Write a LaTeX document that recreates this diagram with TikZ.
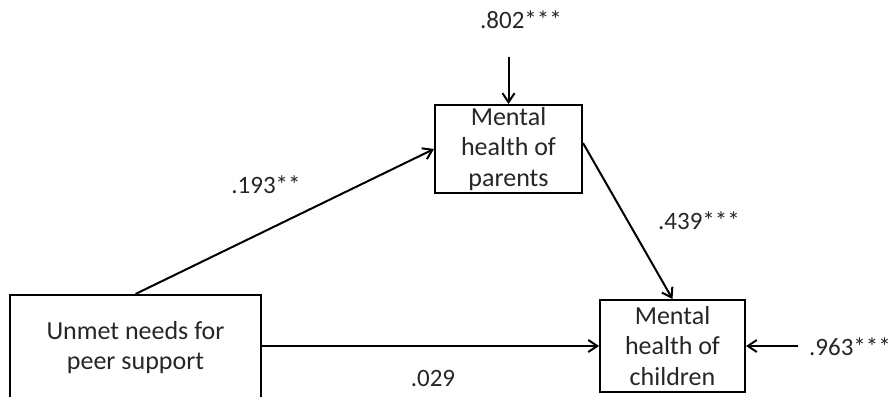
\documentclass[tikz,border=0pt]{standalone}
\usepackage{fontspec}
\setmainfont{Carlito}
\usetikzlibrary{arrows.meta}
\begin{document}
\begin{tikzpicture}[x=1pt,y=-1pt,
  box/.style={draw,line width=2pt,align=center,inner sep=0pt,text=black!85,font=\fontsize{26}{30.5}\selectfont},
  lbl/.style={font=\fontsize{25}{28}\selectfont,inner sep=0pt,text=black!85},
  arr/.style={line width=2pt,-{Straight Barb[length=9pt,width=12pt]}}]
\useasboundingbox (0,0) rectangle (896,396);
\node[box,minimum width=251pt,minimum height=105pt] (unmet) at (135.5,347.5) {Unmet needs for\\peer support};
\node[box,minimum width=147pt,minimum height=88pt] (parents) at (508.5,149) {Mental\\health of\\parents};
\node[box,minimum width=145pt,minimum height=92pt] (children) at (672.5,346) {Mental\\health of\\children};
\coordinate (e1) at (508.5,57);
\coordinate (e2) at (798,346);
\node[lbl] (l802) at (521,20) {.802***};
\node[lbl] (l193) at (266,185) {.193**};
\node[lbl] (l439) at (699,221) {.439***};
\node[lbl] (l029) at (433,378) {.029};
\node[lbl] (l963) at (850,347) {.963***};
\draw[arr] (e1) -- (parents.north);
\draw[arr] (e2) -- (children.east);
\draw[arr] (unmet.north) -- (parents.west);
\draw[arr] (unmet.east |- children.west) -- (children.west);
\draw[arr] ([yshift=6pt]parents.east) -- (children.north);
\end{tikzpicture}
\end{document}
